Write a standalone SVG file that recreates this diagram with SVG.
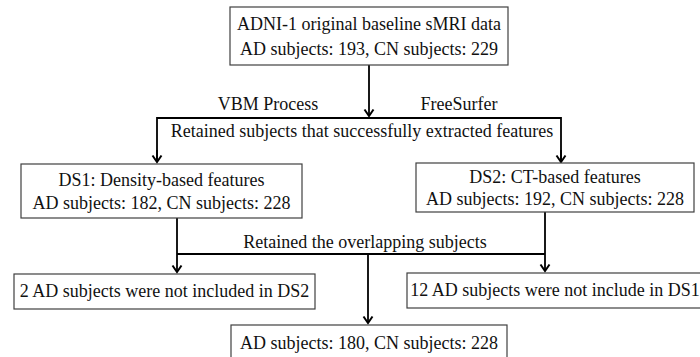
<svg xmlns="http://www.w3.org/2000/svg" width="700" height="357" viewBox="0 0 700 357">
<defs>
<style>
.box{fill:#fff;stroke:#404040;stroke-width:1.2}
.t{font-family:'Liberation Serif','Times New Roman',Tinos,'DejaVu Serif',serif;font-size:18px;fill:#111;text-anchor:middle}
.ln{fill:none;stroke:#000;stroke-width:1.8}
</style>
<marker id="ah" markerWidth="12" markerHeight="12" refX="10" refY="6" viewBox="0 0 12 12" markerUnits="userSpaceOnUse" orient="auto">
<path d="M3.5,1.5 L10,6 L3.5,10.5" fill="none" stroke="#000" stroke-width="2"/>
</marker>
</defs>
<rect width="700" height="357" fill="#fff"/>
<g id="connectors">
<line class="ln" x1="369" y1="65" x2="369" y2="116" marker-end="url(#ah)"/>
<polyline class="ln" points="157,162 157,118 561,118 561,162"/>
<line class="ln" x1="157" y1="150" x2="157" y2="162" marker-end="url(#ah)"/>
<line class="ln" x1="561" y1="150" x2="561" y2="162" marker-end="url(#ah)"/>
<line class="ln" x1="177" y1="218" x2="177" y2="272" marker-end="url(#ah)"/>
<line class="ln" x1="545" y1="212" x2="545" y2="271" marker-end="url(#ah)"/>
<line class="ln" x1="177" y1="254" x2="545" y2="254"/>
<line class="ln" x1="368" y1="254" x2="368" y2="323" marker-end="url(#ah)"/>
<text class="t" x="268" y="110">VBM Process</text>
<text class="t" x="459" y="110">FreeSurfer</text>
<text class="t" x="362" y="137">Retained subjects that successfully extracted features</text>
<text class="t" x="365" y="248">Retained the overlapping subjects</text>
</g>
<g id="n_top">
<rect class="box" x="230" y="7" width="278" height="58"/>
<text class="t" x="369" y="30">ADNI-1 original baseline sMRI data</text>
<text class="t" x="369" y="55">AD subjects: 193, CN subjects: 229</text>
</g>
<g id="n_ds1">
<rect class="box" x="21" y="164" width="281" height="54"/>
<text class="t" x="161.5" y="186">DS1: Density-based features</text>
<text class="t" x="161.5" y="209">AD subjects: 182, CN subjects: 228</text>
</g>
<g id="n_ds2">
<rect class="box" x="416" y="163" width="278" height="49"/>
<text class="t" x="555" y="183">DS2: CT-based features</text>
<text class="t" x="555" y="205">AD subjects: 192, CN subjects: 228</text>
</g>
<g id="n_excl2">
<rect class="box" x="14" y="274" width="301" height="35"/>
<text class="t" x="164.5" y="297">2 AD subjects were not included in DS2</text>
</g>
<g id="n_excl1">
<rect class="box" x="407" y="273" width="298" height="35"/>
<text class="t" x="555" y="296">12 AD subjects were not include in DS1</text>
</g>
<g id="n_final">
<rect class="box" x="231" y="325" width="276" height="40"/>
<text class="t" x="369" y="349">AD subjects: 180, CN subjects: 228</text>
</g>
</svg>
